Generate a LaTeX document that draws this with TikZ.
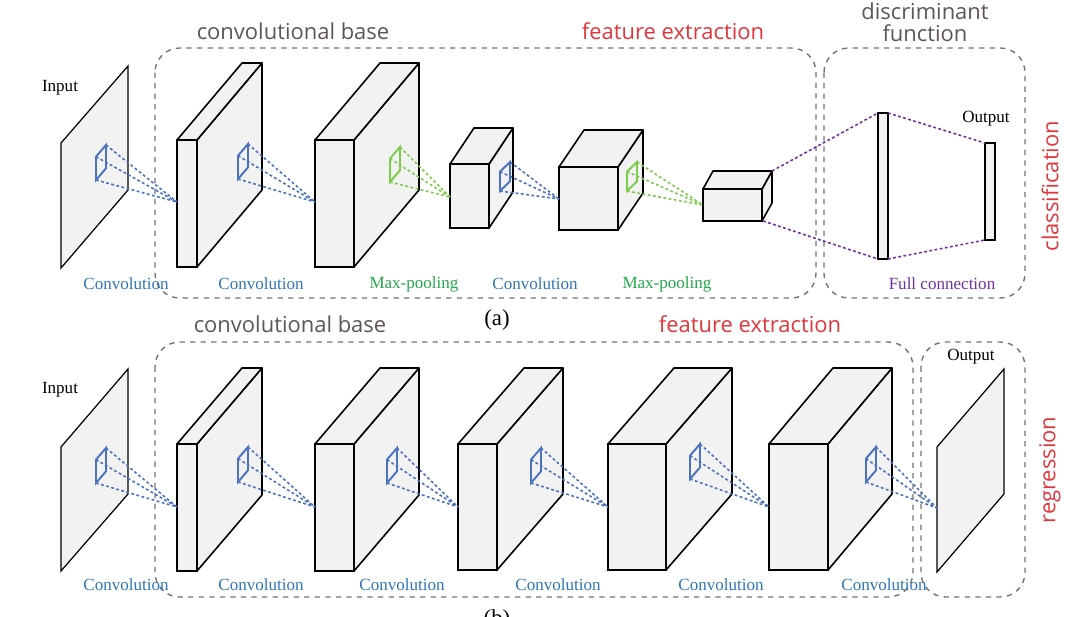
\documentclass[tikz,border=0pt]{standalone}
\usepackage{fontspec}
\setmainfont{Liberation Serif}
\newfontfamily\titlefont{Open Sans}
\definecolor{convblue}{HTML}{4A72C0}
\definecolor{poolgreen}{HTML}{7CCB4A}
\definecolor{labblue}{HTML}{2E75B6}
\definecolor{labgreen}{HTML}{22A84A}
\definecolor{fcpurple}{HTML}{7030A0}
\definecolor{titlered}{HTML}{E0363C}
\definecolor{titlegray}{HTML}{5E5652}
\definecolor{facegray}{HTML}{F2F2F2}
\tikzset{
  face/.style={fill=facegray, draw=black, line width=0.9pt, line join=round},
  front/.style={fill=facegray, draw=black, line width=1.3pt},
  plane/.style={fill=facegray, draw=black, line width=0.7pt},
  fmap/.style={line width=0.9pt, dash pattern=on 1.6pt off 1.4pt},
  group/.style={draw=black!55, dashed, line width=0.8pt, rounded corners=14pt},
  lab/.style={font=\fontsize{9.7}{11}\selectfont},
  title/.style={font=\titlefont\fontsize{12.5}{12.5}\selectfont},
  caption/.style={font=\fontsize{13}{14}\selectfont},
}
% layer: x1, x2, y1, y2, dx, dy
\newcommand{\layer}[6]{%
  \filldraw[face] (#2,#3) -- ++(#5,#6) -- ++(0,{#4-#3}) -- (#2,#4) -- cycle;
  \filldraw[face] (#1,#3) -- ++(#5,#6) -- ++({#2-#1},0) -- (#2,#3) -- cycle;
  \filldraw[front] (#1,#3) rectangle (#2,#4);
}
% kernel: name, x, y, height, colour
\newcommand{\kernel}[5]{%
  \coordinate (#1tr) at (#2+10,#3);
  \coordinate (#1tl) at (#2,{#3+#4/3});
  \coordinate (#1bl) at (#2,#3+#4);
  \coordinate (#1br) at (#2+10,{#3+2*#4/3});
  \draw[#5, line width=1.1pt] (#1tl) -- (#1tr) -- (#1br) -- (#1bl) -- cycle;
}
% dotted lines from a kernel to a point
\newcommand{\kernlines}[3]{%
  \draw[fmap, #3] (#1tr) -- (#2);
  \draw[fmap, #3] (#1tl) -- (#2);
  \draw[fmap, #3] (#1bl) -- (#2);
}
\begin{document}
\begin{tikzpicture}[x=0.02cm, y=-0.02cm]
\useasboundingbox (0,0) rectangle (1066,616);

% dashed groups
\draw[group] (155,48) rectangle (816,298);
\draw[group] (824,48) rectangle (1025,298);
\draw[group] (155,342) rectangle (913,597);
\draw[group] (921,342) rectangle (1025,597);

% ---------------- (a) classification ----------------
\filldraw[plane] (61,143) -- (128,66) -- (128,190) -- (61,268) -- cycle;
\layer{177}{197}{140}{267}{65}{-77}
\layer{315}{354}{140}{267}{65}{-77}
\layer{450}{489}{164}{228}{24}{-36}
\layer{559}{618}{167}{230}{25}{-37}
\layer{703}{762}{189}{221}{10}{-18}

\coordinate (ca0) at (177,202);
\coordinate (ca1) at (315,202);
\coordinate (ca2) at (450,197);
\coordinate (ca3) at (559,199);
\coordinate (ca4) at (703,205);

\kernel{ka0}{96}{145}{35}{convblue}
\kernel{ka1}{238}{144}{35}{convblue}
\kernel{ka2}{390}{147}{35}{poolgreen}
\kernel{ka3}{500}{162}{29}{convblue}
\kernel{ka4}{627}{162}{29}{poolgreen}
\kernlines{ka0}{ca0}{convblue}
\kernlines{ka1}{ca1}{convblue}
\kernlines{ka2}{ca2}{poolgreen}
\kernlines{ka3}{ca3}{convblue}
\kernlines{ka4}{ca4}{poolgreen}

% full connection
\filldraw[front] (878,113) rectangle (888,259);
\filldraw[front] (985,143) rectangle (995,240);
\coordinate (pa) at (772,171);
\coordinate (pb) at (763,221);
\draw[fmap, fcpurple] (pa) -- (878,113);
\draw[fmap, fcpurple] (pb) -- (878,259);
\draw[fmap, fcpurple] (888,113) -- (985,143);
\draw[fmap, fcpurple] (888,259) -- (985,240);

\node[lab] (inA) at (60,88) {Input};
\node[lab] (outA) at (986,119) {Output};
\node[lab, labblue] (la1) at (126,284) {Convolution};
\node[lab, labblue] (la2) at (261,284) {Convolution};
\node[lab, labgreen] (la3) at (414,284) {Max-pooling};
\node[lab, labblue] (la4) at (535,284) {Convolution};
\node[lab, labgreen] (la5) at (667,284) {Max-pooling};
\node[lab, fcpurple] (la6) at (942,284) {Full connection};

\node[title, titlegray] (baseA) at (293,31) {convolutional base};
\node[title, titlered] (featA) at (673,31) {feature extraction};
\node[title, titlegray, align=center] (discA) at (925,22) {discriminant\\function};
\node[title, titlered, rotate=90] (clsA) at (1050,186) {classification};
\node[caption] (capA) at (497,320) {(a)};

% ---------------- (b) regression ----------------
\filldraw[plane] (61,447) -- (128,369) -- (128,494) -- (61,571) -- cycle;
\layer{177}{197}{444}{571}{65}{-76}
\layer{315}{354}{444}{571}{65}{-76}
\layer{458}{497}{444}{570}{66}{-76}
\layer{608}{666}{444}{570}{66}{-76}
\layer{769}{828}{444}{570}{64}{-76}
\filldraw[plane] (937,447) -- (1004,369) -- (1004,494) -- (937,572) -- cycle;

\coordinate (cb0) at (177,507);
\coordinate (cb1) at (315,507);
\coordinate (cb2) at (458,507);
\coordinate (cb3) at (608,507);
\coordinate (cb4) at (769,507);
\coordinate (cb5) at (937,508);

\kernel{kb0}{96}{448}{35}{convblue}
\kernel{kb1}{238}{447}{35}{convblue}
\kernel{kb2}{387}{448}{35}{convblue}
\kernel{kb3}{531}{448}{35}{convblue}
\kernel{kb4}{690}{444}{35}{convblue}
\kernel{kb5}{866}{447}{35}{convblue}
\kernlines{kb0}{cb0}{convblue}
\kernlines{kb1}{cb1}{convblue}
\kernlines{kb2}{cb2}{convblue}
\kernlines{kb3}{cb3}{convblue}
\kernlines{kb4}{cb4}{convblue}
\kernlines{kb5}{cb5}{convblue}

\node[lab] (inB) at (60,390) {Input};
\node[lab] (outB) at (971,357) {Output};
\foreach \x [count=\i] in {126,261,402,558,721,884}
  \node[lab, labblue] (lb\i) at (\x,585) {Convolution};

\node[title, titlegray] (baseB) at (290,324) {convolutional base};
\node[title, titlered] (featB) at (750,324) {feature extraction};
\node[title, titlered, rotate=90] (regB) at (1050,470) {regression};
\node[caption] (capB) at (497,620) {(b)};
\end{tikzpicture}
\end{document}
